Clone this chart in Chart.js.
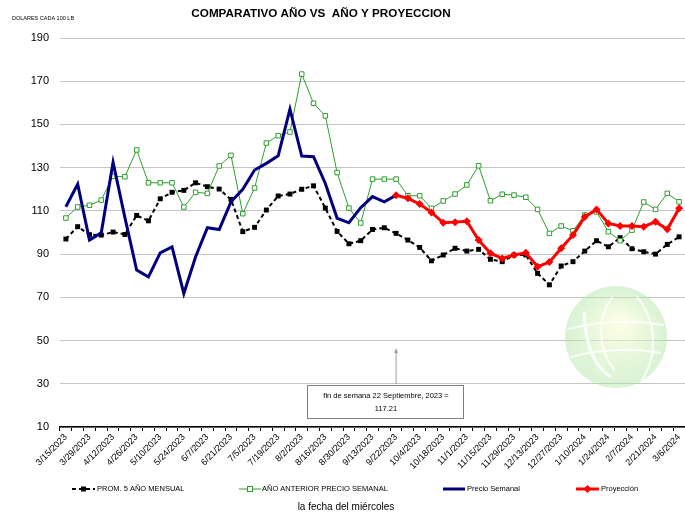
<!DOCTYPE html>
<html><head><meta charset="utf-8">
<script src="https://cdn.jsdelivr.net/npm/chart.js@4.4.0/dist/chart.umd.min.js"></script>
<style>html,body{margin:0;padding:0;background:#fff;}#wrap{width:685px;height:514px;}</style>
</head><body><div id="wrap"><canvas id="c" width="685" height="514"></canvas></div>
<script>
const categories = ["3/15/2023","3/22/2023","3/29/2023","4/5/2023","4/12/2023","4/19/2023","4/26/2023","5/3/2023","5/10/2023","5/17/2023","5/24/2023","5/31/2023","6/7/2023","6/14/2023","6/21/2023","6/28/2023","7/5/2023","7/12/2023","7/19/2023","7/26/2023","8/2/2023","8/9/2023","8/16/2023","8/23/2023","8/30/2023","9/6/2023","9/13/2023","9/20/2023","9/22/2023","9/27/2023","10/4/2023","10/11/2023","10/18/2023","10/25/2023","11/1/2023","11/8/2023","11/15/2023","11/22/2023","11/29/2023","12/6/2023","12/13/2023","12/20/2023","12/27/2023","1/3/2024","1/10/2024","1/17/2024","1/24/2024","1/31/2024","2/7/2024","2/14/2024","2/21/2024","2/28/2024","3/6/2024"];
const prom5 = [97.0,102.7,99.0,98.8,100.2,99.1,107.9,105.4,115.6,118.6,119.5,123.0,121.2,120.1,115.3,100.4,102.4,110.4,116.9,117.8,120.0,121.6,111.3,100.5,94.8,96.2,101.4,102.2,99.6,96.5,93.1,86.9,89.6,92.7,91.4,92.2,87.6,86.5,89.6,89.6,81.1,75.8,84.5,86.5,91.4,96.2,93.4,97.6,92.5,91.1,90.0,94.5,98.0];
const anioAnterior = [106.7,111.8,112.6,115.0,126.0,125.8,138.2,123.0,123.0,123.0,111.8,118.6,118.1,130.8,135.7,108.7,120.6,141.4,144.8,146.5,173.3,159.8,154.0,127.7,111.3,104.4,124.7,124.7,124.7,117.0,117.0,111.2,114.6,117.8,122.0,130.9,114.7,117.7,117.3,116.3,110.7,99.6,103.0,100.8,108.1,109.5,100.4,96.2,101.1,114.1,110.7,118.1,114.2];
const precioSemanal = [111.9,122.4,96.5,99.9,132.5,107.0,82.6,79.5,90.6,93.3,71.8,88.8,102.2,101.4,114.2,120.0,128.9,132.0,135.5,157.1,135.4,135.1,122.7,106.6,104.5,111.5,116.6,114.2,117.21,null,null,null,null,null,null,null,null,null,null,null,null,null,null,null,null,null,null,null,null,null,null,null,null];
const proyeccion = [null,null,null,null,null,null,null,null,null,null,null,null,null,null,null,null,null,null,null,null,null,null,null,null,null,null,null,null,117.21,115.8,113.2,109.3,104.5,104.8,105.2,96.5,90.4,88.0,89.6,90.6,84.2,86.3,92.7,98.8,107.2,110.7,104.2,103.0,103.0,102.7,105.0,101.5,111.2];
const yMin = 10, yMax = 190, yStep = 20;

const FONT = "'Liberation Sans', Arial, sans-serif";
const GREEN = '#2e9e2e', NAVY = '#00007f', RED = '#ff0000';

const decor = {
  id: 'decor',
  beforeDatasetsDraw(chart) {
    const ctx = chart.ctx;
    ctx.save();
    const cx = 616, cy = 337, r = 51;
    const g = ctx.createRadialGradient(cx + 5, cy - 15, 5, cx, cy, r);
    g.addColorStop(0, 'rgba(248,252,205,0.55)');
    g.addColorStop(1, 'rgba(170,228,160,0.45)');
    ctx.fillStyle = g;
    ctx.beginPath(); ctx.arc(cx, cy, r, 0, Math.PI * 2); ctx.fill();
    ctx.strokeStyle = 'rgba(255,255,255,0.85)'; ctx.lineWidth = 2;
    ctx.beginPath(); ctx.arc(cx + 45, cy - 5, 60, Math.PI * 0.78, Math.PI * 1.2); ctx.stroke();
    ctx.beginPath(); ctx.arc(cx - 35, cy + 5, 72, -Math.PI * 0.22, Math.PI * 0.18); ctx.stroke();
    ctx.beginPath(); ctx.moveTo(cx - 48, cy - 8); ctx.quadraticCurveTo(cx, cy - 20, cx + 48, cy - 12); ctx.stroke();
    ctx.beginPath(); ctx.moveTo(cx - 45, cy + 20); ctx.quadraticCurveTo(cx, cy + 8, cx + 45, cy + 16); ctx.stroke();
    ctx.strokeStyle = 'rgba(255,255,255,0.9)'; ctx.lineWidth = 3;
    ctx.beginPath(); ctx.moveTo(cx - 32, cy - 25); ctx.quadraticCurveTo(cx - 30, cy + 25, cx - 5, cy + 40); ctx.stroke();
    ctx.restore();
  },
  afterDraw(chart) {
    const ctx = chart.ctx;
    ctx.save();
    ctx.fillStyle = '#000';
    ctx.textBaseline = 'middle';
    ctx.font = "bold 11.7px " + FONT;
    ctx.textAlign = 'center';
    ctx.fillText('COMPARATIVO AÑO VS  AÑO Y PROYECCION', 321, 14);
    ctx.font = "5.5px " + FONT;
    ctx.textAlign = 'left';
    ctx.fillText('DOLARES CADA 100 LB', 12, 18);
    ctx.font = "10px " + FONT;
    ctx.textAlign = 'center';
    ctx.fillText('la fecha del miércoles', 346, 507);
    const ly = 489;
    ctx.font = "7.5px " + FONT;
    ctx.textAlign = 'left';
    ctx.strokeStyle = '#000'; ctx.lineWidth = 2; ctx.setLineDash([4, 3]);
    ctx.beginPath(); ctx.moveTo(72, ly); ctx.lineTo(95, ly); ctx.stroke();
    ctx.setLineDash([]);
    ctx.fillRect(81, ly - 2.5, 5, 5);
    ctx.fillText('PROM. 5 AÑO MENSUAL', 97, ly);
    ctx.strokeStyle = GREEN; ctx.lineWidth = 1;
    ctx.beginPath(); ctx.moveTo(239, ly); ctx.lineTo(261, ly); ctx.stroke();
    ctx.fillStyle = '#fff'; ctx.fillRect(247.5, ly - 2.5, 5, 5);
    ctx.strokeRect(247.5, ly - 2.5, 5, 5);
    ctx.fillStyle = '#000';
    ctx.fillText('AÑO ANTERIOR PRECIO SEMANAL', 262, ly);
    ctx.strokeStyle = NAVY; ctx.lineWidth = 3;
    ctx.beginPath(); ctx.moveTo(443, ly); ctx.lineTo(465, ly); ctx.stroke();
    ctx.fillText('Precio Semanal', 467, ly);
    ctx.strokeStyle = RED; ctx.lineWidth = 3;
    ctx.beginPath(); ctx.moveTo(576, ly); ctx.lineTo(599, ly); ctx.stroke();
    ctx.fillStyle = RED;
    ctx.beginPath(); ctx.moveTo(587.5, ly - 4); ctx.lineTo(591.5, ly); ctx.lineTo(587.5, ly + 4); ctx.lineTo(583.5, ly); ctx.closePath(); ctx.fill();
    ctx.fillStyle = '#000';
    ctx.fillText('Proyección', 601, ly);
    const xs = chart.scales.x;
    const ax = xs.getPixelForValue(28);
    ctx.strokeStyle = '#a0a0a0'; ctx.lineWidth = 1;
    ctx.beginPath(); ctx.moveTo(ax, 384); ctx.lineTo(ax, 352); ctx.stroke();
    ctx.fillStyle = '#a0a0a0';
    ctx.beginPath(); ctx.moveTo(ax, 348); ctx.lineTo(ax + 2, 353); ctx.lineTo(ax - 2, 353); ctx.closePath(); ctx.fill();
    ctx.fillStyle = '#fff';
    ctx.fillRect(307.5, 385.5, 156, 33);
    ctx.strokeStyle = '#7f7f7f';
    ctx.strokeRect(307.5, 385.5, 156, 33);
    ctx.fillStyle = '#000';
    ctx.font = "7.5px " + FONT;
    ctx.textAlign = 'center';
    ctx.fillText('fin de semana 22 Septiembre, 2023 =', 386, 396);
    ctx.fillText(String(precioSemanal[28]), 386, 409);
    ctx.restore();
  }
};

new Chart(document.getElementById('c'), {
  type: 'line',
  data: {
    labels: categories,
    datasets: [
      { label: 'PROM. 5 AÑO MENSUAL', data: prom5, borderColor: '#000', backgroundColor: '#000', borderWidth: 2, borderDash: [4, 3], pointStyle: 'rect', pointRadius: 3.5, pointBorderWidth: 0, pointBackgroundColor: '#000', tension: 0, order: 4, clip: 6 },
      { label: 'AÑO ANTERIOR PRECIO SEMANAL', data: anioAnterior, borderColor: GREEN, backgroundColor: '#fff', borderWidth: 1, pointStyle: 'rect', pointRadius: 3.2, pointBorderWidth: 1, pointBorderColor: GREEN, pointBackgroundColor: '#fff', tension: 0, order: 3, clip: 6 },
      { label: 'Precio Semanal', data: precioSemanal, borderColor: NAVY, backgroundColor: NAVY, borderWidth: 3, pointRadius: 0, tension: 0, spanGaps: false, order: 2, clip: 6 },
      { label: 'Proyección', data: proyeccion, borderColor: RED, backgroundColor: RED, borderWidth: 3, pointStyle: 'rectRot', pointRadius: 4, pointBorderWidth: 0, pointBackgroundColor: RED, tension: 0, spanGaps: false, order: 1, clip: 6 }
    ]
  },
  options: {
    responsive: false,
    animation: false,
    devicePixelRatio: 1,
    layout: { autoPadding: false, padding: { top: 38, left: 0, right: 0, bottom: 0 } },
    plugins: { legend: { display: false }, title: { display: false }, tooltip: { enabled: false } },
    scales: {
      x: {
        type: 'category',
        offset: true,
        afterFit: (s) => { s.height = 87; s.paddingRight = 0; },
        grid: { offset: true, drawOnChartArea: false, drawTicks: true, tickLength: 4, tickColor: '#000', lineWidth: 1 },
        border: { display: true, color: '#000', width: 1.5 },
        ticks: { autoSkip: false, maxRotation: 45, minRotation: 45, padding: 1, color: '#000', font: { size: 9, family: FONT },
          callback: (v, i) => (i % 2 === 0 ? categories[i] : '') }
      },
      y: {
        min: yMin, max: yMax,
        afterFit: (s) => { s.width = 60; },
        grid: { color: '#c4c4c4', lineWidth: 1, drawTicks: false },
        border: { display: false },
        ticks: { stepSize: yStep, padding: 11, color: '#000', font: { size: 11, family: FONT } }
      }
    }
  },
  plugins: [decor]
});
</script></body></html>
